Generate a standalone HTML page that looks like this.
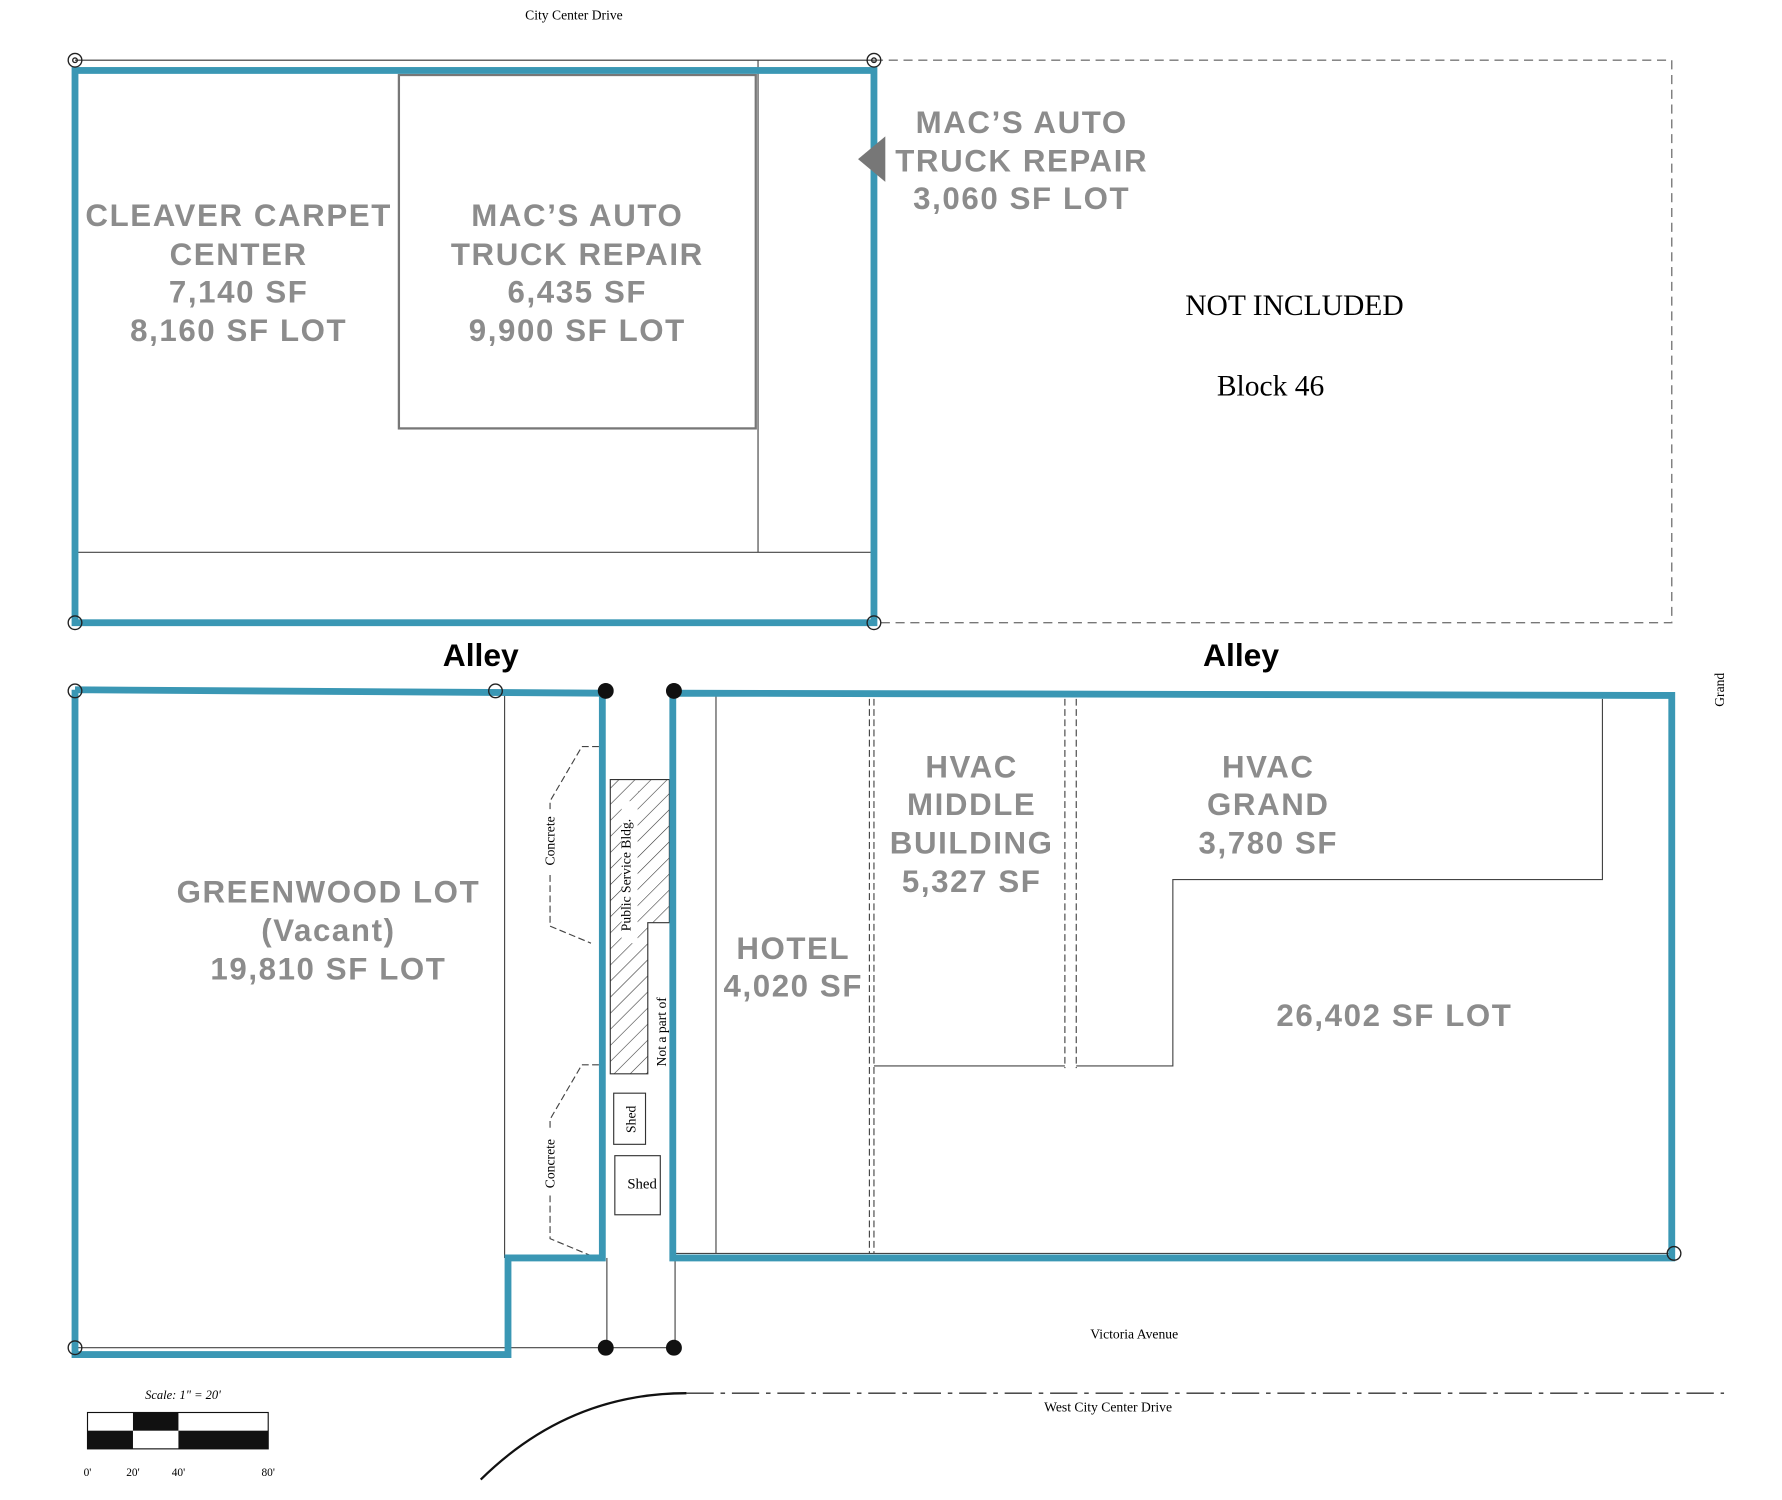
<!DOCTYPE html>
<html><head><meta charset="utf-8"><style>
html,body{margin:0;padding:0;background:#fff;}
svg{display:block}
.g{font-family:"Liberation Sans",sans-serif;font-weight:bold;fill:#8c8c8c;font-size:27.5px;text-anchor:middle;letter-spacing:1.4px}
.s{font-family:"Liberation Serif",serif;fill:#000;text-anchor:middle}
</style></head><body>
<svg width="1782" height="1500" viewBox="0 0 1568 1320" preserveAspectRatio="none" xmlns="http://www.w3.org/2000/svg">
<rect width="1568" height="1320" fill="#fff"/>
<text class="s" x="505" y="17" font-size="12">City Center Drive</text>
<line x1="66" y1="53" x2="769" y2="53" stroke="#333" stroke-width="1"/>
<rect x="769" y="53" width="702" height="495" fill="none" stroke="#777" stroke-width="1.2" stroke-dasharray="8,5"/>
<rect x="351" y="66" width="314" height="311" fill="none" stroke="#777" stroke-width="2"/>
<line x1="667" y1="53" x2="667" y2="486" stroke="#444" stroke-width="1"/>
<line x1="66" y1="486" x2="769" y2="486" stroke="#444" stroke-width="1"/>
<rect x="66" y="62" width="703" height="486" fill="none" stroke="#3a97b4" stroke-width="6"/>
<polygon points="755,140 779,120 779,160" fill="#777"/>
<g fill="none" stroke="#222" stroke-width="1.2">
<circle cx="66" cy="53" r="6"/><circle cx="769" cy="53" r="6"/><circle cx="66" cy="548" r="6"/><circle cx="769" cy="548" r="6"/>
<circle cx="66" cy="53" r="2"/><circle cx="769" cy="53" r="2"/>
</g>
<g class="g">
<text x="210" y="199">CLEAVER CARPET</text><text x="210" y="233">CENTER</text><text x="210" y="266">7,140 SF</text><text x="210" y="300">8,160 SF LOT</text>
<text x="508" y="199">MAC’S AUTO</text><text x="508" y="233">TRUCK REPAIR</text><text x="508" y="266">6,435 SF</text><text x="508" y="300">9,900 SF LOT</text>
<text x="899" y="117">MAC’S AUTO</text><text x="899" y="151">TRUCK REPAIR</text><text x="899" y="184">3,060 SF LOT</text>
</g>
<text class="s" x="1139" y="277" font-size="26">NOT INCLUDED</text>
<text class="s" x="1118" y="348" font-size="26">Block 46</text>
<text x="423" y="586" font-family="Liberation Sans,sans-serif" font-weight="bold" font-size="28" text-anchor="middle">Alley</text>
<text x="1092" y="586" font-family="Liberation Sans,sans-serif" font-weight="bold" font-size="28" text-anchor="middle">Alley</text>
<g stroke="#444" stroke-width="1" fill="none">
<line x1="444" y1="610" x2="444" y2="1107"/>
<line x1="534" y1="1107" x2="534" y2="1186"/>
<line x1="594" y1="1107" x2="594" y2="1186"/>
<line x1="66" y1="1186" x2="594" y2="1186"/>
<line x1="630" y1="612" x2="630" y2="1103"/>
<line x1="592" y1="1103" x2="1471" y2="1103"/>
<line x1="769" y1="938" x2="937" y2="938"/>
<polyline points="947,938 1032,938 1032,774 1410,774 1410,615"/>
</g>
<g stroke="#444" stroke-width="1" stroke-dasharray="6,3" fill="none">
<line x1="765" y1="615" x2="765" y2="1103"/><line x1="769" y1="615" x2="769" y2="1103"/>
<line x1="937" y1="615" x2="937" y2="940"/><line x1="947" y1="615" x2="947" y2="940"/>
<polyline points="527,657 512,657 484,705 484,712"/>
<polyline points="484,770 484,815 520,830"/>
<polyline points="527,937 512,937 484,985 484,995"/>
<polyline points="484,1052 484,1090 520,1105"/>
</g>
<defs><pattern id="h" width="10" height="10" patternUnits="userSpaceOnUse" patternTransform="rotate(45)"><line x1="0" y1="0" x2="0" y2="10" stroke="#333" stroke-width="1"/></pattern></defs>
<polygon points="537,686 589,686 589,812 570,812 570,945 537,945" fill="url(#h)" stroke="#333" stroke-width="1"/>
<rect x="547" y="705" width="14" height="125" fill="#fff"/>
<rect x="576" y="870" width="13" height="75" fill="#fff"/>
<text class="s" font-size="12" transform="translate(555,770) rotate(-90)">Public Service Bldg.</text>
<text class="s" font-size="12" transform="translate(586,908) rotate(-90)">Not a part of</text>
<text class="s" font-size="12" transform="translate(488,740) rotate(-90)">Concrete</text>
<text class="s" font-size="12" transform="translate(488,1024) rotate(-90)">Concrete</text>
<rect x="540" y="962" width="28" height="45" fill="none" stroke="#333" stroke-width="1"/>
<text class="s" font-size="12" transform="translate(559,985) rotate(-90)">Shed</text>
<rect x="541" y="1017" width="40" height="52" fill="none" stroke="#333" stroke-width="1"/>
<text class="s" font-size="13" x="565" y="1046">Shed</text>
<polyline points="66,607 530,610 530,1107 447,1107 447,1192 66,1192 66,607" fill="none" stroke="#3a97b4" stroke-width="6" stroke-linejoin="miter"/>
<polygon points="592,610 1471,612 1471,1107 592,1107" fill="none" stroke="#3a97b4" stroke-width="6"/>
<g fill="none" stroke="#222" stroke-width="1.2">
<circle cx="66" cy="608" r="6"/><circle cx="436" cy="608" r="6"/><circle cx="66" cy="1186" r="6"/><circle cx="1473" cy="1103" r="6"/>
</g>
<g fill="#111"><circle cx="533" cy="608" r="7"/><circle cx="593" cy="608" r="7"/><circle cx="533" cy="1186" r="7"/><circle cx="593" cy="1186" r="7"/></g>
<g class="g">
<text x="289" y="794">GREENWOOD LOT</text><text x="289" y="828">(Vacant)</text><text x="289" y="862">19,810 SF LOT</text>
<text x="698" y="844">HOTEL</text><text x="698" y="877">4,020 SF</text>
<text x="855" y="684">HVAC</text><text x="855" y="717">MIDDLE</text><text x="855" y="751">BUILDING</text><text x="855" y="785">5,327 SF</text>
<text x="1116" y="684">HVAC</text><text x="1116" y="717">GRAND</text><text x="1116" y="751">3,780 SF</text>
<text x="1227" y="903">26,402 SF LOT</text>
</g>
<text class="s" font-size="12" transform="translate(1517,607) rotate(-90)">Grand</text>
<text class="s" font-size="12" x="998" y="1178">Victoria Avenue</text>
<text class="s" font-size="12" x="975" y="1242">West City Center Drive</text>
<line x1="604" y1="1226" x2="1517" y2="1226" stroke="#333" stroke-width="1.2" stroke-dasharray="24,6,4,6"/>
<path d="M423,1302 Q500,1226 604,1226" fill="none" stroke="#111" stroke-width="2"/>
<text class="s" font-size="11" font-style="italic" x="161" y="1231">Scale: 1" = 20'</text>
<rect x="77" y="1243" width="159" height="32" fill="#fff" stroke="#111" stroke-width="1"/>
<rect x="117" y="1243" width="40" height="16" fill="#111"/>
<rect x="77" y="1259" width="40" height="16" fill="#111"/>
<rect x="157" y="1259" width="79" height="16" fill="#111"/>
<g class="s" font-size="10"><text x="77" y="1299">0'</text><text x="117" y="1299">20'</text><text x="157" y="1299">40'</text><text x="236" y="1299">80'</text></g>
</svg>
</body></html>
